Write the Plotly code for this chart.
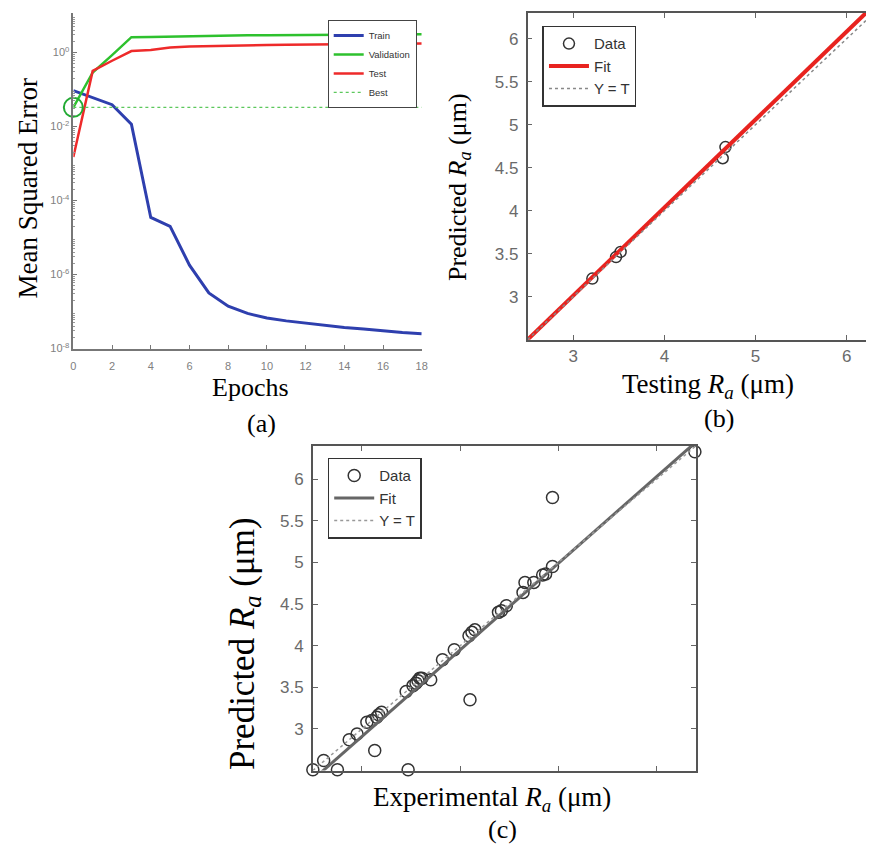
import plotly.graph_objects as go

W, H = 874, 845

# ---------------- data ----------------
epochs = list(range(19))
train_mse = [0.094, 0.06, 0.039, 0.0115, 3.5e-5, 2.0e-5, 1.8e-6, 3.2e-7, 1.4e-7, 8.9e-8,
             6.7e-8, 5.6e-8, 4.8e-8, 4.2e-8, 3.7e-8, 3.4e-8, 3.0e-8, 2.7e-8, 2.5e-8]
val_mse = [0.033, 0.29, 0.85, 2.6, 2.63, 2.7, 2.8, 2.85, 2.9, 2.93,
           2.95, 2.97, 2.99, 3.0, 3.02, 3.04, 3.06, 3.08, 3.1]
test_mse = [1.5e-3, 0.32, 0.6, 1.1, 1.18, 1.36, 1.45, 1.5, 1.55, 1.58,
            1.6, 1.63, 1.65, 1.67, 1.68, 1.7, 1.72, 1.74, 1.75]
best_epoch = 0
best_mse = 0.033

a_xticks = [0, 2, 4, 6, 8, 10, 12, 14, 16, 18]
a_yticks = [1e-8, 1e-6, 1e-4, 1e-2, 1e0]
a_yticktext = ["10<sup>-8</sup>", "10<sup>-6</sup>", "10<sup>-4</sup>", "10<sup>-2</sup>", "10<sup>0</sup>"]

testing_ra = [3.21, 3.47, 3.52, 4.64, 4.67]
predicted_test_ra = [3.21, 3.46, 3.52, 4.61, 4.74]
fit_b = (1.024, -0.06)   # slope, intercept

experimental_ra = [2.50, 2.61, 2.75, 2.87, 2.95, 3.05, 3.10, 3.13, 3.15, 3.17, 3.20,
                   3.47, 3.45, 3.52, 3.55, 3.57, 3.59, 3.61, 3.70, 3.82, 3.94,
                   4.10, 4.09, 4.12, 4.15, 4.39, 4.42, 4.47, 4.64, 4.66, 4.75,
                   4.84, 4.87, 4.94, 4.94, 6.39]
predicted_ra = [2.51, 2.62, 2.51, 2.87, 2.94, 3.08, 3.10, 2.74, 3.14, 3.17, 3.20,
                2.51, 3.45, 3.52, 3.55, 3.58, 3.61, 3.61, 3.59, 3.83, 3.95,
                3.35, 4.12, 4.16, 4.19, 4.40, 4.42, 4.48, 4.64, 4.76, 4.76,
                4.85, 4.86, 4.95, 5.78, 6.33]
fit_c = (1.04, -0.21)

rb_ticks = [3, 3.5, 4, 4.5, 5, 5.5, 6]
rb_xticks = [3, 4, 5, 6]
range_b = [2.5, 6.3]
range_c = [2.5, 6.4]

# ---------------- figure ----------------
fig = go.Figure()

SERIF = "Liberation Serif"
SANS = "Liberation Sans"

# Panel (a)
fig.add_trace(go.Scatter(x=epochs, y=train_mse, mode="lines", name="Train",
                         line=dict(color="#2e3fae", width=3), xaxis="x", yaxis="y", legend="legend"))
fig.add_trace(go.Scatter(x=epochs, y=val_mse, mode="lines", name="Validation",
                         line=dict(color="#2ec12e", width=2.5), xaxis="x", yaxis="y", legend="legend"))
fig.add_trace(go.Scatter(x=epochs, y=test_mse, mode="lines", name="Test",
                         line=dict(color="#ee2a2a", width=2.5), xaxis="x", yaxis="y", legend="legend"))
fig.add_trace(go.Scatter(x=[epochs[0], epochs[-1]], y=[best_mse, best_mse], mode="lines", name="Best",
                         line=dict(color="#5cc85c", width=1.3, dash="dot"), xaxis="x", yaxis="y", legend="legend"))
fig.add_trace(go.Scatter(x=[best_epoch], y=[best_mse], mode="markers", showlegend=False,
                         marker=dict(symbol="circle-open", size=19, color="#22aa33",
                                     line=dict(color="#22aa33", width=2)),
                         cliponaxis=False, xaxis="x", yaxis="y"))

# Panel (b)
lo, hi = range_b
fig.add_trace(go.Scatter(x=testing_ra, y=predicted_test_ra, mode="markers", name="Data",
                         marker=dict(symbol="circle-open", size=11, color="#333", line=dict(width=1.5, color="#333")),
                         cliponaxis=False, xaxis="x2", yaxis="y2", legend="legend2"))
fig.add_trace(go.Scatter(x=[lo, hi], y=[fit_b[0] * lo + fit_b[1], fit_b[0] * hi + fit_b[1]], mode="lines", name="Fit",
                         line=dict(color="#e8231f", width=4), xaxis="x2", yaxis="y2", legend="legend2"))
fig.add_trace(go.Scatter(x=[lo, hi], y=[lo, hi], mode="lines", name="Y = T",
                         line=dict(color="#888", width=1.5, dash="dot"), xaxis="x2", yaxis="y2", legend="legend2"))

# Panel (c)
lo, hi = range_c
fig.add_trace(go.Scatter(x=experimental_ra, y=predicted_ra, mode="markers", name="Data",
                         marker=dict(symbol="circle-open", size=12, color="#333", line=dict(width=1.5, color="#333")),
                         cliponaxis=False, xaxis="x3", yaxis="y3", legend="legend3"))
fig.add_trace(go.Scatter(x=[lo, hi], y=[fit_c[0] * lo + fit_c[1], fit_c[0] * hi + fit_c[1]], mode="lines", name="Fit",
                         line=dict(color="#666", width=3), xaxis="x3", yaxis="y3", legend="legend3"))
fig.add_trace(go.Scatter(x=[lo, hi], y=[lo, hi], mode="lines", name="Y = T",
                         line=dict(color="#999", width=1.5, dash="dot"), xaxis="x3", yaxis="y3", legend="legend3"))


def dom_x(a, b):
    return [a / W, b / W]


def dom_y(top, bottom):
    return [1 - bottom / H, 1 - top / H]


tick_gray = "#6a6a6a"
box_axis = dict(showline=True, linecolor="#555", linewidth=1.5, mirror="ticks", ticks="inside",
                ticklen=5, tickcolor="#666", showgrid=False, zeroline=False,
                tickfont=dict(family=SANS, size=17, color=tick_gray))

minor_vals = [m * 10 ** k for k in range(-8, 1) for m in range(2, 10)]

fig.update_layout(
    width=W, height=H, margin=dict(l=0, r=0, t=0, b=0),
    plot_bgcolor="white", paper_bgcolor="white",
    xaxis=dict(domain=dom_x(63, 415), range=[0, 18], anchor="y", tickmode="array", tickvals=a_xticks,
               showline=True, linecolor="#777", linewidth=1.5, ticks="inside", ticklen=4, tickcolor="#777",
               showgrid=False, zeroline=False, ticklabelstandoff=6,
               tickfont=dict(family=SANS, size=11, color="#808080")),
    yaxis=dict(domain=dom_y(5, 343), type="log", range=[-8, 1.07], anchor="x", tickmode="array",
               tickvals=a_yticks, ticktext=a_yticktext,
               showline=True, linecolor="#777", linewidth=1.5, ticks="inside", ticklen=4, tickcolor="#777",
               minor=dict(tickmode="array", tickvals=minor_vals, ticks="inside", ticklen=2, tickcolor="#999", showgrid=False),
               showgrid=False, zeroline=False,
               tickfont=dict(family=SANS, size=11, color="#808080")),
    xaxis2=dict(domain=dom_x(522, 872), range=range_b, anchor="y2", tickmode="array", tickvals=rb_xticks,
                ticklabelstandoff=0, **box_axis),
    yaxis2=dict(domain=dom_y(5, 334), range=range_b, anchor="x2", tickmode="array", tickvals=rb_ticks,
                ticklabelstandoff=4, **box_axis),
    xaxis3=dict(domain=dom_x(305, 692), range=range_c, anchor="y3", tickmode="array", tickvals=rb_xticks,
                showticklabels=False, **box_axis),
    yaxis3=dict(domain=dom_y(441, 768), range=range_c, anchor="x3", tickmode="array", tickvals=rb_ticks,
                ticklabelstandoff=4, **box_axis),
    legend=dict(x=320 / W, y=1 - 12 / H, xanchor="left", yanchor="top", bgcolor="white",
                bordercolor="#444", borderwidth=1, font=dict(family=SANS, size=9.5, color="#333"),
                itemwidth=30, tracegroupgap=0),
    legend2=dict(x=537 / W, y=1 - 18 / H, xanchor="left", yanchor="top", bgcolor="white",
                 bordercolor="#333", borderwidth=1.5, font=dict(family=SANS, size=15, color="#333"),
                 itemwidth=40),
    legend3=dict(x=320 / W, y=1 - 453 / H, xanchor="left", yanchor="top", bgcolor="white",
                 bordercolor="#333", borderwidth=1.5, font=dict(family=SANS, size=15, color="#333"),
                 itemwidth=40),
)

RA = "<i>R</i><sub><i>a</i></sub> (μm)"


def label(text, x, y, size=26, angle=0, yanchor="middle"):
    fig.add_annotation(text=text, x=x / W, y=1 - y / H, xref="paper", yref="paper", showarrow=False,
                       font=dict(family=SERIF, size=size, color="black"), textangle=angle,
                       xanchor="center", yanchor=yanchor)


label("Mean Squared Error", 17, 182, size=27, angle=-90)
label("Epochs", 242, 382, size=26)
label("(a)", 253, 418, size=26)
label("Predicted " + RA, 452, 180, size=26, angle=-90)
label("Testing " + RA, 704, 362, size=27, yanchor="top")
label("(b)", 715, 413, size=26)
label("Predicted " + RA, 236, 640, size=35, angle=-90)
label("Experimental " + RA, 486, 797, size=27)
label("(c)", 497, 827, size=26)

fig.write_html("out.html")
